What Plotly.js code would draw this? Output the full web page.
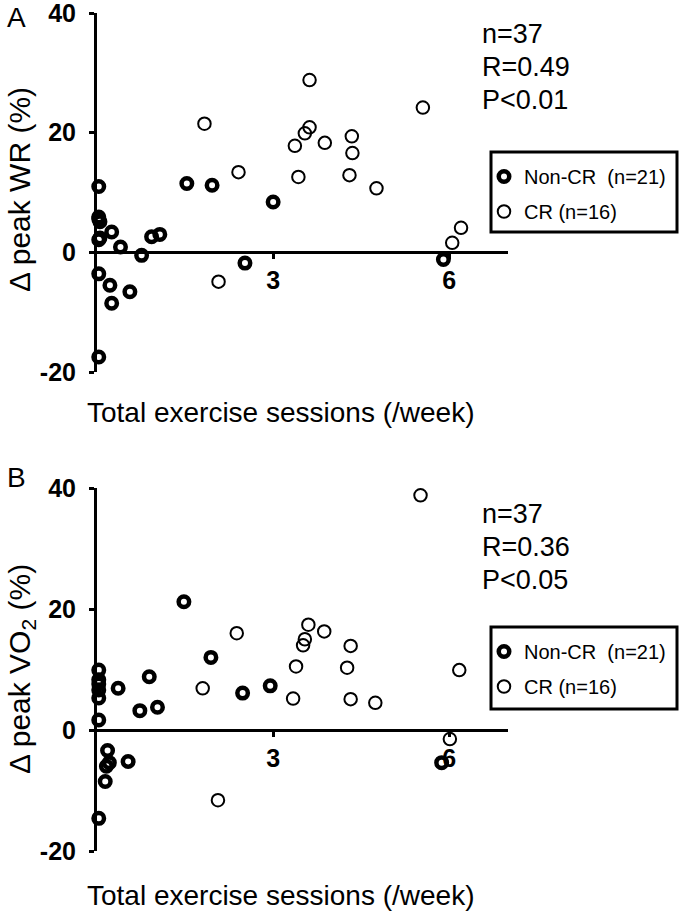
<!DOCTYPE html>
<html>
<head>
<meta charset="utf-8">
<script src="https://cdn.plot.ly/plotly-3.0.1.min.js"></script>
<style>html,body{margin:0;padding:0;background:#fff;}#chart{width:680px;height:914px;}</style>
</head>
<body>
<div id="chart"></div>
<script>
// ---- Data ----
// Panel A: Δ peak WR (%) vs total exercise sessions (/week)
const xA_nonCR = [0.03, 0.03, 0.05, 0.03, 0.25, 0.03, 0.40, 0.76, 0.93, 1.07, 0.03, 0.22, 0.25, 0.56, 0.03, 1.53, 1.96, 3.00, 2.52, 5.90, 0.05];
const yA_nonCR = [11.0, 5.6, 5.1, 5.9, 3.4, 2.1, 0.9, -0.5, 2.6, 3.0, -3.6, -5.5, -8.5, -6.6, -17.5, 11.5, 11.2, 8.4, -1.8, -1.2, 2.4];
const xA_CR = [1.83, 2.41, 2.07, 3.37, 3.54, 3.62, 3.88, 3.43, 3.62, 4.34, 4.35, 4.30, 4.76, 5.55, 6.05, 6.20];
const yA_CR = [21.5, 13.4, -4.9, 17.8, 19.9, 20.9, 18.3, 12.6, 28.8, 19.4, 16.6, 12.9, 10.7, 24.2, 1.6, 4.1];
// Panel B: Δ peak VO2 (%) vs total exercise sessions (/week)
const xB_nonCR = [0.03, 0.03, 0.03, 0.03, 0.03, 0.03, 0.03, 0.36, 0.89, 0.73, 1.03, 0.18, 0.21, 0.16, 0.53, 0.14, 1.48, 1.94, 2.48, 2.95, 5.87];
const yB_nonCR = [9.9, 8.3, 7.6, 6.6, 5.3, 1.65, -14.6, 6.9, 8.8, 3.2, 3.75, -3.4, -5.4, -6.0, -5.2, -8.5, 21.2, 12.0, 6.1, 7.3, -5.4];
const xB_CR = [2.38, 1.80, 3.60, 3.54, 3.51, 3.87, 3.39, 3.34, 2.06, 5.51, 4.32, 4.26, 4.32, 4.74, 6.17, 6.01];
const yB_CR = [16.0, 6.9, 17.4, 15.0, 14.0, 16.3, 10.5, 5.2, -11.6, 38.8, 13.9, 10.3, 5.1, 4.5, 9.9, -1.5];

const xTickVals = [3, 6];
const xTickText = ['3', '6'];
const yTickVals = [-20, 0, 20, 40];
const yTickText = ['-20', '0', '20', '40'];
const statsA = ['n=37', 'R=0.49', 'P<0.01'];
const statsB = ['n=37', 'R=0.36', 'P<0.05'];
const nameNonCR = 'Non-CR\u00a0 (n=21)';
const nameCR = 'CR (n=16)';

// ---- Layout helpers ----
const W = 680, H = 914;
const FONT = 'Liberation Sans, Arial, Helvetica, sans-serif';
const px = p => p / W;
const py = p => 1 - p / H;
const xDom = [px(97), px(508)];
const yDomA = [py(372), py(13)];
const yDomB = [py(851), py(488)];
const yRange = [-20, 40];
const zeroPos = d => d[0] + (d[1] - d[0]) * (0 - yRange[0]) / (yRange[1] - yRange[0]);

const thick = {symbol: 'circle-open', size: 10.5, color: '#000', line: {width: 4.5, color: '#000'}};
const thin = {symbol: 'circle-open', size: 12.5, color: '#000', line: {width: 2, color: '#000'}};

const traces = [
  {x: xA_CR, y: yA_CR, type: 'scatter', mode: 'markers', name: nameCR, marker: thin, cliponaxis: false, xaxis: 'x', yaxis: 'y', legend: 'legend', legendgroup: 'a2', legendrank: 2},
  {x: xA_nonCR, y: yA_nonCR, type: 'scatter', mode: 'markers', name: nameNonCR, marker: thick, cliponaxis: false, xaxis: 'x', yaxis: 'y', legend: 'legend', legendgroup: 'a1', legendrank: 1},
  {x: xB_CR, y: yB_CR, type: 'scatter', mode: 'markers', name: nameCR, marker: thin, cliponaxis: false, xaxis: 'x2', yaxis: 'y2', legend: 'legend2', legendgroup: 'b2', legendrank: 2},
  {x: xB_nonCR, y: yB_nonCR, type: 'scatter', mode: 'markers', name: nameNonCR, marker: thick, cliponaxis: false, xaxis: 'x2', yaxis: 'y2', legend: 'legend2', legendgroup: 'b1', legendrank: 1}
];

function xAxis(dom, yd) {
  return {
    domain: dom, range: [0, 7], anchor: 'free', position: zeroPos(yd), side: 'bottom',
    showline: true, linewidth: 3, linecolor: '#000', ticks: 'outside', ticklen: 5, tickwidth: 3, tickcolor: '#000',
    tickvals: xTickVals, ticktext: xTickText.map(t => '<b>' + t + '</b>'),
    tickfont: {family: FONT, size: 25, color: '#000'}, ticklabelstandoff: 0, ticklabeloverflow: 'allow',
    showgrid: false, zeroline: false, fixedrange: true
  };
}
function yAxis(dom, anchor) {
  return {
    domain: dom, range: yRange, anchor: anchor,
    showline: true, linewidth: 3, linecolor: '#000', ticks: 'outside', ticklen: 5, tickwidth: 3, tickcolor: '#000',
    tickvals: yTickVals, ticktext: yTickText.map(t => '<b>' + t + '</b>'),
    tickfont: {family: FONT, size: 25, color: '#000'}, ticklabelstandoff: 8, ticklabeloverflow: 'allow',
    showgrid: false, zeroline: false, fixedrange: true
  };
}

const ann = [];
function txt(text, x, y, size, opts) {
  ann.push(Object.assign({text: text, x: x, y: y, xref: 'paper', yref: 'paper', showarrow: false,
    xanchor: 'left', yanchor: 'middle', font: {family: FONT, size: size, color: '#000'}}, opts || {}));
}
txt('A', px(16), py(17), 28, {xanchor: 'center'});
txt('B', px(16), py(477), 28, {xanchor: 'center'});
[34, 67, 100].forEach((yy, i) => txt(statsA[i], px(480), py(yy), 27));
[514, 547, 580].forEach((yy, i) => txt(statsB[i], px(480), py(yy), 27));
txt('\u0394 peak WR (%)', px(20), py(190), 30, {xanchor: 'center', textangle: -90});
txt('\u0394 peak VO<sub>2</sub> (%)', px(21), py(669), 30, {xanchor: 'center', textangle: -90});
txt('Total exercise sessions (/week)', px(85), py(412), 28);
txt('Total exercise sessions (/week)', px(85), py(895), 28);

const legendStyle = y => ({
  x: px(484), y: py(y), xanchor: 'left', yanchor: 'top', bgcolor: 'rgba(0,0,0,0)', borderwidth: 0,
  font: {family: FONT, size: 20, color: '#000'}, tracegroupgap: 6, traceorder: 'grouped', itemwidth: 30
});

const layout = {
  width: W, height: H, margin: {l: 0, r: 0, t: 0, b: 0}, paper_bgcolor: '#fff', plot_bgcolor: 'rgba(0,0,0,0)',
  showlegend: true,
  xaxis: xAxis(xDom, yDomA), yaxis: yAxis(yDomA, 'x'),
  xaxis2: xAxis(xDom, yDomB), yaxis2: yAxis(yDomB, 'x2'),
  legend: legendStyle(157), legend2: legendStyle(632),
  annotations: ann,
  shapes: [
    {type: 'rect', xref: 'paper', yref: 'paper', x0: px(491), x1: px(677), y0: py(232), y1: py(152), line: {color: '#000', width: 3}},
    {type: 'rect', xref: 'paper', yref: 'paper', x0: px(491), x1: px(677), y0: py(709), y1: py(627), line: {color: '#000', width: 3}}
  ],
  font: {family: FONT, color: '#000'}
};

Plotly.newPlot('chart', traces, layout, {staticPlot: true, displayModeBar: false});
</script>
</body>
</html>
